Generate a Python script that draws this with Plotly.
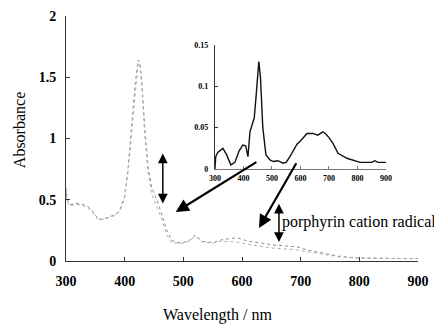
import plotly.graph_objects as go

# Main spectra (wavelength nm, absorbance)
wavelength = [300, 302, 307, 315, 324, 336, 345, 355, 365, 375, 385, 392, 400, 406, 412, 418,
              423, 426, 429, 435, 440, 446, 455, 464, 472, 480, 489, 500, 511, 520, 533, 551,
              562, 575, 591, 605, 619, 636, 653, 670, 694, 712, 736, 764, 793, 832, 870, 900]
absorbance_a = [0.60, 0.50, 0.46, 0.47, 0.47, 0.45, 0.41, 0.34, 0.345, 0.36, 0.38, 0.42, 0.53, 0.77,
                1.09, 1.45, 1.64, 1.62, 1.48, 1.04, 0.77, 0.60, 0.50, 0.36, 0.25, 0.17, 0.15, 0.15,
                0.17, 0.21, 0.16, 0.15, 0.17, 0.18, 0.19, 0.17, 0.155, 0.145, 0.13, 0.125, 0.115,
                0.09, 0.065, 0.04, 0.025, 0.02, 0.02, 0.02]
absorbance_b = [0.58, 0.48, 0.45, 0.46, 0.46, 0.44, 0.40, 0.335, 0.34, 0.355, 0.375, 0.41, 0.51, 0.74,
                1.05, 1.42, 1.62, 1.60, 1.44, 0.98, 0.72, 0.55, 0.44, 0.33, 0.21, 0.15, 0.145, 0.145,
                0.165, 0.20, 0.155, 0.145, 0.16, 0.16, 0.155, 0.14, 0.13, 0.115, 0.105, 0.10, 0.09,
                0.075, 0.055, 0.035, 0.025, 0.02, 0.02, 0.02]

# Inset difference spectrum
inset_wavelength = [300, 303, 310, 328, 340, 356, 370, 385, 398, 408, 416, 423, 430, 438, 445, 454,
                    460, 468, 479, 493, 505, 521, 539, 550, 563, 575, 588, 600, 616, 623, 635, 644,
                    661, 670, 679, 690, 700, 714, 732, 763, 790, 809, 835, 850, 861, 872, 900]
inset_diff = [0.0, 0.015, 0.02, 0.025, 0.018, 0.005, 0.008, 0.022, 0.029, 0.028, 0.015, 0.045, 0.053,
              0.062, 0.09, 0.13, 0.11, 0.05, 0.017, 0.011, 0.009, 0.01, 0.007, 0.008, 0.015, 0.022,
              0.03, 0.034, 0.04, 0.043, 0.043, 0.043, 0.041, 0.043, 0.045, 0.042, 0.038, 0.031,
              0.019, 0.013, 0.01, 0.008, 0.008, 0.008, 0.01, 0.008, 0.008]

x_ticks = [300, 400, 500, 600, 700, 800, 900]
x_tick_text = ["300", "400", "500", "600", "700", "800", "900"]
y_ticks = [0, 0.5, 1, 1.5, 2]
y_tick_text = ["0", "0.5", "1", "1.5", "2"]
inset_y_ticks = [0, 0.05, 0.1, 0.15]
inset_y_text = ["0", "0.05", "0.1", "0.15"]

SERIF = "Liberation Serif, Times New Roman, serif"


def bold(labels):
    return ["<b>%s</b>" % t for t in labels]


fig = go.Figure()
fig.add_trace(go.Scatter(x=wavelength, y=absorbance_a, mode="lines",
                         line=dict(color="#8c8c8c", width=1, dash="dot"), showlegend=False))
fig.add_trace(go.Scatter(x=wavelength, y=absorbance_b, mode="lines",
                         line=dict(color="#b0b0b0", width=1, dash="dot"), showlegend=False))
fig.add_trace(go.Scatter(x=inset_wavelength, y=inset_diff, mode="lines", xaxis="x2", yaxis="y2",
                         line=dict(color="#111111", width=1.4), showlegend=False))

# The page body adds an 8px offset; the figure is sized to compensate.
fig.update_layout(
    width=434, height=318,
    margin=dict(l=58, r=24, t=8, b=65),
    paper_bgcolor="white", plot_bgcolor="white",
    font=dict(family=SERIF, color="black"),
    xaxis=dict(range=[300, 900], tickvals=x_ticks, ticktext=bold(x_tick_text), ticks="inside",
               ticklen=4, tickcolor="#333333", automargin=False,
               showline=True, linecolor="#333333", linewidth=1, showgrid=False, zeroline=False,
               tickfont=dict(family=SERIF, size=14, color="black"), ticklabelstandoff=7),
    yaxis=dict(range=[0, 2], tickvals=y_ticks, ticktext=bold(y_tick_text), ticks="inside",
               ticklen=4, tickcolor="#333333", automargin=False,
               showline=True, linecolor="#333333", linewidth=1, showgrid=False, zeroline=False,
               tickfont=dict(family=SERIF, size=14, color="black"), ticklabelstandoff=6),
    xaxis2=dict(domain=[0.423, 0.909], anchor="y2", range=[300, 900], tickvals=x_ticks,
                ticktext=bold(x_tick_text), automargin=False,
                ticks="inside", ticklen=3, tickcolor="#777777", showline=True,
                linecolor="#777777", linewidth=1, showgrid=False, zeroline=False,
                tickfont=dict(family=SERIF, size=8, color="black"), ticklabelstandoff=1),
    yaxis2=dict(domain=[0.3755, 0.8816], anchor="x2", range=[0, 0.15], tickvals=inset_y_ticks,
                ticktext=bold(inset_y_text), ticks="inside", ticklen=3, tickcolor="#333333",
                automargin=False, showline=True,
                linecolor="#333333", linewidth=1, showgrid=False, zeroline=False,
                tickfont=dict(family=SERIF, size=8, color="black"), ticklabelstandoff=4),
)

# Axis titles
fig.add_annotation(text="Absorbance", xref="paper", yref="paper", x=-0.13, y=0.535,
                   xanchor="center", yanchor="middle",
                   textangle=-90, showarrow=False, font=dict(family=SERIF, size=16))
fig.add_annotation(text="Wavelength / nm", xref="paper", yref="paper", x=0.43, y=-0.222,
                   xanchor="center", yanchor="middle",
                   showarrow=False, font=dict(family=SERIF, size=16))

# Arrows
arrow_common = dict(xref="x", yref="y", axref="x", ayref="y", text="", showarrow=True,
                    arrowcolor="black")
fig.add_annotation(x=465, y=0.47, ax=465, ay=0.89, arrowhead=2, arrowsize=1.3, arrowwidth=1.5,
                   arrowside="end+start", startarrowhead=2, startarrowsize=1.3, **arrow_common)
fig.add_annotation(x=487, y=0.40, ax=627, ay=0.815, arrowhead=2, arrowsize=1.2, arrowwidth=2.2,
                   **arrow_common)
fig.add_annotation(x=629, y=0.27, ax=694, ay=0.81, arrowhead=2, arrowsize=1.2, arrowwidth=2.2,
                   **arrow_common)
fig.add_annotation(x=663, y=0.155, ax=663, ay=0.48, arrowhead=2, arrowsize=1.3, arrowwidth=1.5,
                   arrowside="end+start", startarrowhead=2, startarrowsize=1.3, **arrow_common)
fig.add_annotation(text="porphyrin cation radical", xref="x", yref="y", x=666, y=0.32,
                   xanchor="left", yanchor="middle", showarrow=False, borderpad=0,
                   font=dict(family=SERIF, size=16))

fig.write_html("out.html")
